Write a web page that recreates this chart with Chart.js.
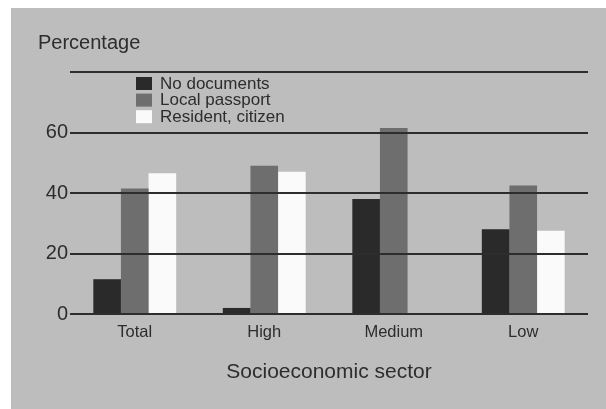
<!DOCTYPE html>
<html>
<head>
<meta charset="utf-8">
<script src="https://cdn.jsdelivr.net/npm/chart.js@4/dist/chart.umd.min.js"></script>
<style>
  html, body { margin: 0; padding: 0; background: #ffffff; }
  #wrap {
    position: absolute; left: 11px; top: 8px;
    width: 595px; height: 401px;
    background: #bdbdbd;
  }
</style>
</head>
<body>
<div id="wrap"><canvas id="chart" width="595" height="401"></canvas></div>
<script>
// data
const sectors = ['Total', 'High', 'Medium', 'Low'];
const seriesNames = ['No documents', 'Local passport', 'Resident, citizen'];
const noDocuments = [11.5, 2, 38, 28];
const localPassport = [41.5, 49, 61.5, 42.5];
const residentCitizen = [46.5, 47, null, 27.5];
const yTicks = [0, 20, 40, 60, 80];

const barColors = ['#2a2a2a', '#6e6e6e', '#fafafa'];
const ink = '#2d2d2d';
const fontFamily = '"Liberation Sans", Arial, Helvetica, sans-serif';

// "Percentage" label and the legend block inside the plot
const extras = {
  id: 'extras',
  afterDraw(chart) {
    const ctx = chart.ctx;
    ctx.save();
    ctx.fillStyle = ink;
    ctx.font = '20px ' + fontFamily;
    ctx.textAlign = 'left';
    ctx.textBaseline = 'middle';
    ctx.fillText('Percentage', 27, 35);

    ctx.font = '17px ' + fontFamily;
    chart.data.datasets.forEach((ds, i) => {
      const cy = 75.5 + i * 16.6;
      ctx.fillStyle = ds.backgroundColor;
      ctx.fillRect(125, cy - 6.5, 16, 13);
      ctx.fillStyle = ink;
      ctx.fillText(ds.label, 149, cy + 0.5);
    });
    ctx.restore();
  }
};

const ctx = document.getElementById('chart').getContext('2d');
const chart = new Chart(ctx, {
  type: 'bar',
  data: {
    labels: sectors,
    datasets: [
      { label: seriesNames[0], data: noDocuments, backgroundColor: barColors[0] },
      { label: seriesNames[1], data: localPassport, backgroundColor: barColors[1] },
      { label: seriesNames[2], data: residentCitizen, backgroundColor: barColors[2] }
    ]
  },
  options: {
    responsive: false,
    animation: false,
    devicePixelRatio: 1,
    layout: { padding: { top: 64, right: 18, bottom: 0, left: 0 } },
    datasets: {
      bar: { categoryPercentage: 0.64, barPercentage: 1, borderWidth: 0 }
    },
    plugins: {
      legend: { display: false },
      tooltip: { enabled: false },
      title: { display: false }
    },
    scales: {
      x: {
        grid: { display: false },
        border: { display: false },
        ticks: {
          color: ink,
          padding: 1,
          font: { family: fontFamily, size: 16.5 }
        },
        title: {
          display: true,
          text: 'Socioeconomic sector',
          color: ink,
          font: { family: fontFamily, size: 21 },
          padding: { top: 0, bottom: 24 }
        },
        afterFit(scale) { scale.height = 95; }
      },
      y: {
        min: 0,
        max: 80,
        afterBuildTicks(scale) {
          scale.ticks = yTicks.map(v => ({ value: v }));
        },
        grid: {
          color: ink,
          lineWidth: 2,
          drawTicks: false,
          z: 1
        },
        border: { display: false },
        ticks: {
          color: ink,
          padding: 2,
          font: { family: fontFamily, size: 20 },
          callback: (v) => (v === 80 ? '' : v)
        },
        afterFit(scale) { scale.width = 59; }
      }
    }
  },
  plugins: [extras]
});
</script>
</body>
</html>
